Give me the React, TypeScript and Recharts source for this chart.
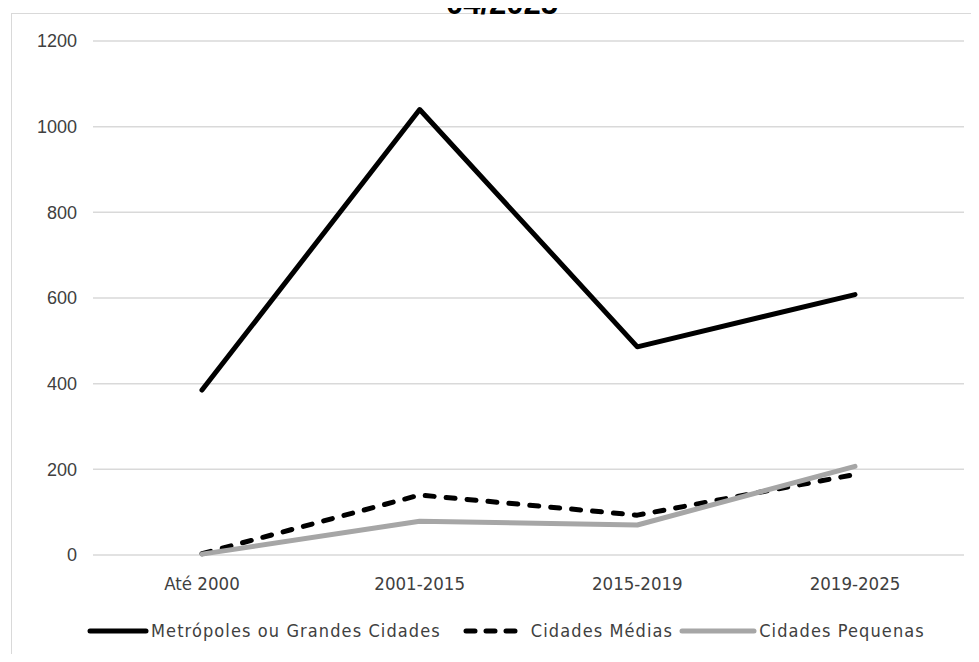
import React from 'react';
import { LineChart, Line, XAxis, YAxis, CartesianGrid, Legend } from 'recharts';

// Períodos e contagens por porte de cidade
const periods = ['Até 2000', '2001-2015', '2015-2019', '2019-2025'];
const metropoles = [385, 1040, 486, 608];
const medias = [3, 140, 93, 188];
const pequenas = [2, 79, 70, 207];
const yTicks = [0, 200, 400, 600, 800, 1000, 1200];

const seriesInfo = [
  { key: 'metropoles', name: 'Metrópoles ou Grandes Cidades', color: '#000000', dash: undefined, sample: 60, gapAfter: 22 },
  { key: 'medias', name: 'Cidades Médias', color: '#000000', dash: '9 12', sample: 64, gapAfter: 6 },
  { key: 'pequenas', name: 'Cidades Pequenas', color: '#a6a6a6', dash: undefined, sample: 76, gapAfter: 0 },
];

const data = periods.map((p, i) => ({
  period: p,
  metropoles: metropoles[i],
  medias: medias[i],
  pequenas: pequenas[i],
}));

const narrow = '"DejaVu Sans Condensed", "Liberation Sans", sans-serif';

function LegendRow() {
  return (
    <div
      style={{
        display: 'flex',
        alignItems: 'center',
        fontFamily: narrow,
        fontSize: 18,
        letterSpacing: 1.1,
        color: '#404040',
        paddingLeft: 87,
        whiteSpace: 'nowrap',
      }}
    >
      {seriesInfo.map((s) => (
        <span key={s.key} style={{ display: 'flex', alignItems: 'center', marginRight: s.gapAfter }}>
          <svg width={s.sample + 2} height={10} style={{ marginRight: 2 }}>
            <line
              x1={3}
              y1={5}
              x2={s.sample - 1}
              y2={5}
              stroke={s.color}
              strokeWidth={5}
              strokeLinecap="round"
              strokeDasharray={s.dash ? '9 11' : undefined}
            />
          </svg>
          {s.name}
        </span>
      ))}
    </div>
  );
}

export default function App() {
  return (
    <div
      style={{
        position: 'relative',
        width: 979,
        height: 662,
        margin: -8,
        overflow: 'hidden',
        background: '#ffffff',
        fontFamily: '"Liberation Sans", Arial, sans-serif',
      }}
    >
      {/* moldura do gráfico */}
      <div
        style={{
          position: 'absolute',
          left: 11,
          top: 13,
          width: 1000,
          height: 700,
          border: '1.5px solid #d9d9d9',
          boxSizing: 'border-box',
        }}
      />
      <div
        style={{
          position: 'absolute',
          left: 0,
          width: 1004,
          top: -12,
          textAlign: 'center',
          fontWeight: 'bold',
          fontSize: 31,
          color: '#000',
          lineHeight: '31px',
        }}
      >
        04/2025
      </div>
      <div style={{ position: 'absolute', left: 0, top: 0 }}>
        <LineChart width={979} height={662} data={data} margin={{ top: 41, right: 15, bottom: 8, left: 0 }}>
          <CartesianGrid vertical={false} stroke="#d9d9d9" strokeWidth={1.5} />
          <XAxis
            dataKey="period"
            axisLine={false}
            tickLine={false}
            tickSize={0}
            tickMargin={22}
            height={65}
            padding={{ left: 109, right: 109 }}
            tick={{ fontFamily: narrow, fontSize: 18.5, fill: '#404040' }}
            interval={0}
          />
          <YAxis
            domain={[0, 1200]}
            ticks={yTicks}
            axisLine={false}
            tickLine={false}
            tickSize={0}
            tickMargin={16}
            width={93}
            tick={{ fontFamily: '"Liberation Sans", Arial, sans-serif', fontSize: 18, fill: '#404040' }}
          />
          {seriesInfo.map((s) => (
            <Line
              key={s.key}
              dataKey={s.key}
              name={s.name}
              stroke={s.color}
              strokeWidth={5}
              strokeDasharray={s.dash}
              strokeLinecap="round"
              strokeLinejoin="round"
              dot={false}
              activeDot={false}
              isAnimationActive={false}
            />
          ))}
          <Legend verticalAlign="bottom" height={34} content={() => <LegendRow />} />
        </LineChart>
      </div>
    </div>
  );
}
